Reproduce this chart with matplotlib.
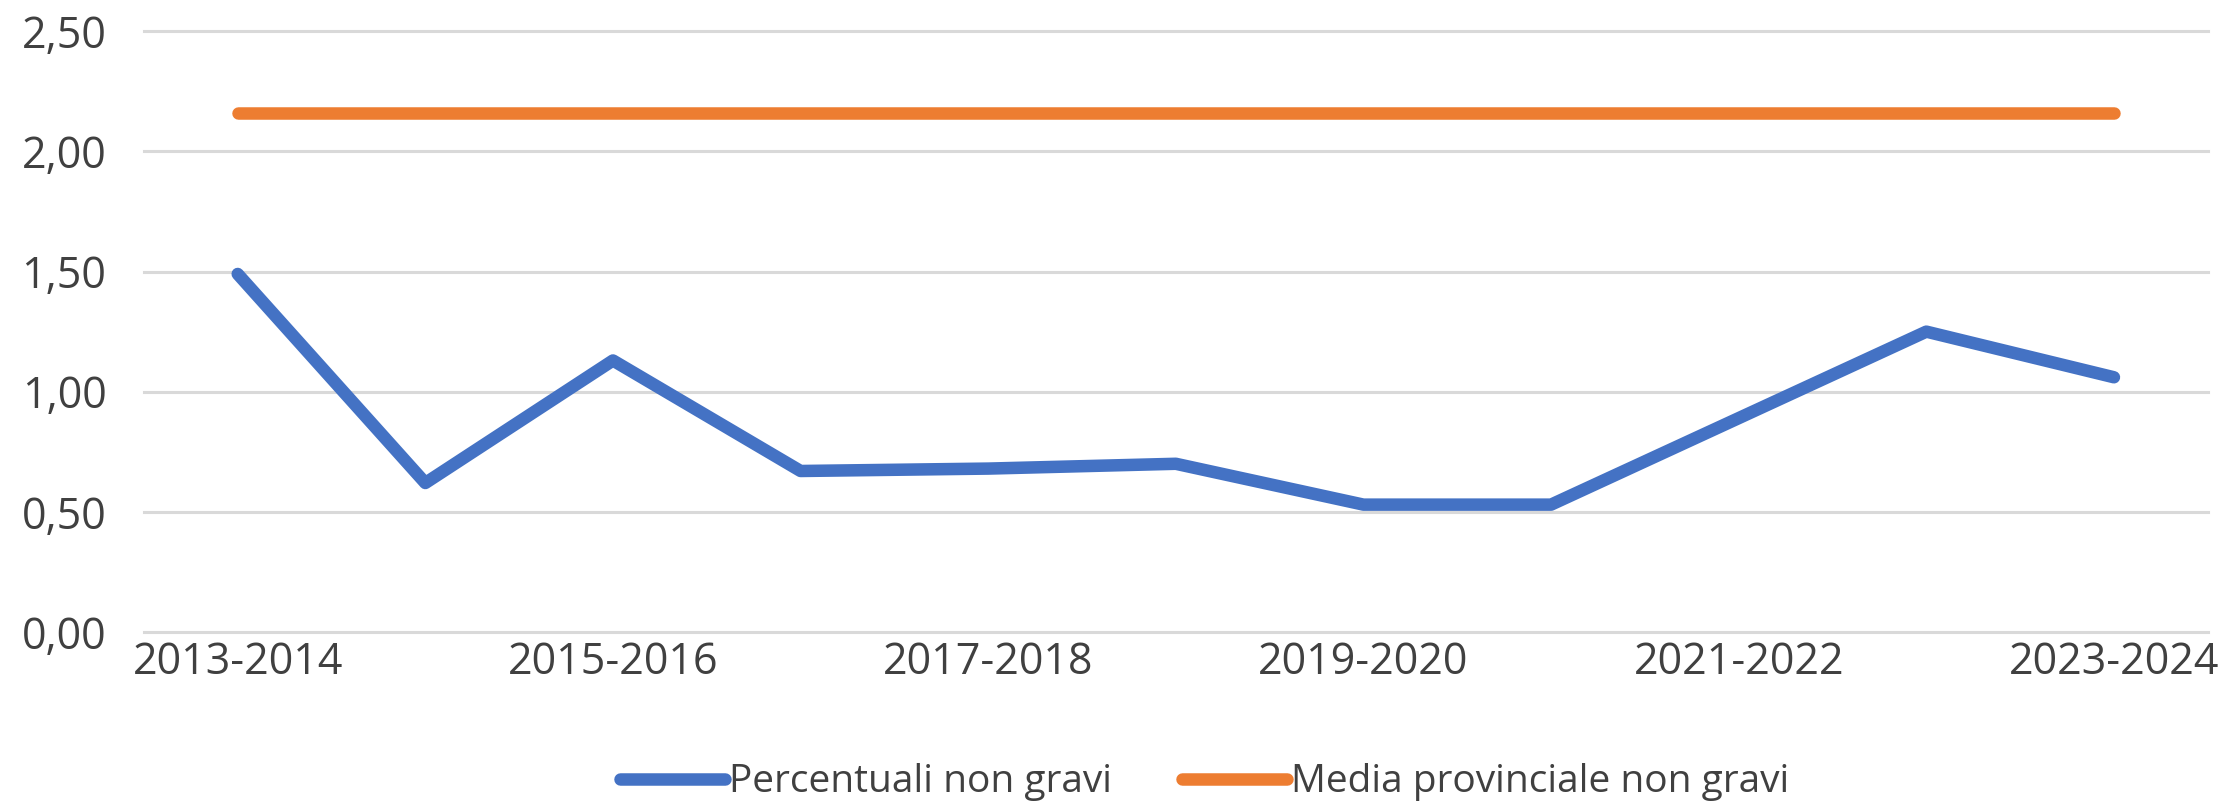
import matplotlib
matplotlib.use("Agg")
import matplotlib.pyplot as plt
from matplotlib.ticker import FuncFormatter

# Dati
anni = ["2013-2014", "2014-2015", "2015-2016", "2016-2017", "2017-2018", "2018-2019",
        "2019-2020", "2020-2021", "2021-2022", "2022-2023", "2023-2024"]
percentuali_non_gravi = [1.49, 0.62, 1.13, 0.67, 0.68, 0.70, 0.53, 0.53, 0.89, 1.25, 1.06]
media_provinciale = [2.16] * len(anni)

plt.rcParams['font.family'] = ['Open Sans', 'DejaVu Sans']

fig = plt.figure(figsize=(22.24, 8.02), dpi=100)
ax = fig.add_axes([0.0647, 0.212, 0.928, 0.749])

x = list(range(len(anni)))
ax.plot(x, percentuali_non_gravi, color="#4472C4", lw=9, solid_capstyle="round",
        solid_joinstyle="round", label="Percentuali non gravi", zorder=3)
ax.plot(x, media_provinciale, color="#ED7D31", lw=9, solid_capstyle="round",
        label="Media provinciale non gravi", zorder=3)

ax.set_xlim(-0.5, len(anni) - 0.5)
ax.set_ylim(0, 2.5)
ax.set_yticks([0, 0.5, 1.0, 1.5, 2.0, 2.5])
ax.yaxis.set_major_formatter(FuncFormatter(lambda v, p: f"{v:.2f}".replace(".", ",")))
ax.set_xticks(x[::2])
ax.set_xticklabels(anni[::2])

ax.grid(axis="y", color="#D9D9D9", lw=2.2)
for gl in ax.get_ygridlines():
    gl.set_clip_on(False)
ax.set_axisbelow(True)
for s in ax.spines.values():
    s.set_visible(False)
ax.tick_params(axis="both", length=0, labelsize=31, colors="#404040")
ax.tick_params(axis="y", pad=27)
ax.tick_params(axis="x", pad=6)

leg = ax.legend(loc="center", bbox_to_anchor=(0.514, -0.25), ncol=2, frameon=False,
                fontsize=28, handlelength=2.7, handletextpad=0.1, columnspacing=1.8,
                labelcolor="#404040")

fig.savefig("out.png", dpi=100, facecolor="white")
